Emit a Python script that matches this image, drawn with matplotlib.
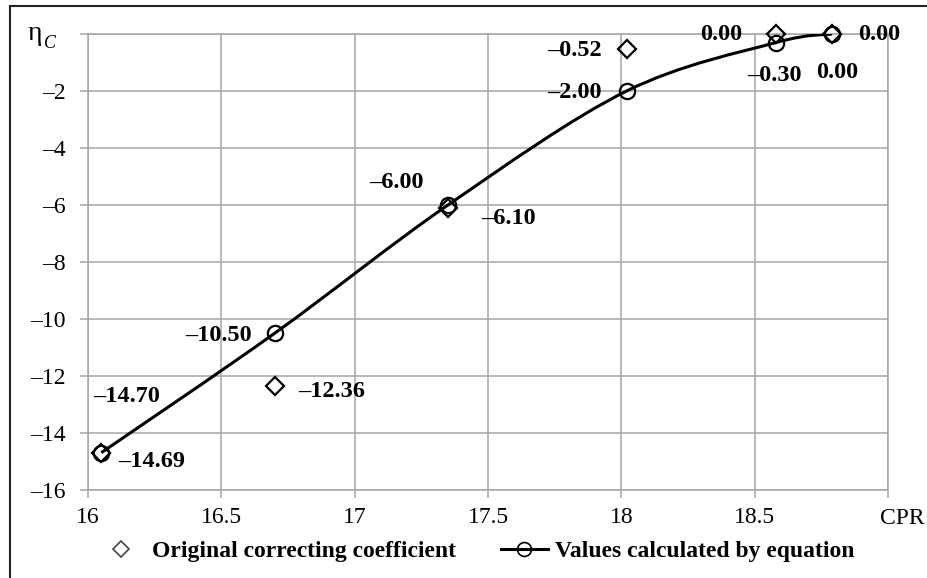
import matplotlib
matplotlib.use("Agg")
import matplotlib.pyplot as plt
from matplotlib.path import Path
from matplotlib.patches import PathPatch
from matplotlib.lines import Line2D
import numpy as np

# ---- data ----
cpr = [16.05, 16.70, 17.35, 18.02, 18.58, 18.79]
original_coef = [-14.70, -12.36, -6.10, -0.52, 0.00, 0.00]
equation_vals = [-14.69, -10.50, -6.00, -2.00, -0.30, 0.00]
x_ticks = [16, 16.5, 17, 17.5, 18, 18.5, 19]
x_tick_labels = ["16", "16.5", "17", "17.5", "18", "18.5", ""]
y_ticks = [-16, -14, -12, -10, -8, -6, -4, -2, 0]
y_tick_labels = ["\u201316", "\u201314", "\u201312", "\u201310", "\u20138", "\u20136", "\u20134", "\u20132", ""]
legend_labels = ["Original correcting coefficient", "Values calculated by equation"]

# label placement (pixels: dx, dy up, horizontal alignment)
orig_label_pos = [(-8, 56, "left"), (23, -5, "left"), (33, -11, "left"),
                  (-25, -2, "right"), (-34, 0, "right"), (26, 0, "left")]
eq_label_pos = [(17, -9, "left"), (-23, -2, "right"), (-24, 22, "right"),
                (-25, -2, "right"), (-2, -33, "center"), (5, -39, "center")]

W, H = 928, 578
fig = plt.figure(figsize=(W / 100, H / 100), dpi=100)
ax = fig.add_axes([88 / W, 1 - 490 / H, 800 / W, 456 / H])

SERIF = ["Liberation Serif", "DejaVu Serif"]
grid_c = "#a6a6a6"

ax.set_xlim(16, 19)
ax.set_ylim(-16, 0)
ax.set_xticks(x_ticks)
ax.set_xticklabels(x_tick_labels, fontfamily=SERIF, fontsize=17)
ax.set_yticks(y_ticks)
ax.set_yticklabels(y_tick_labels, fontfamily=SERIF, fontsize=17)
ax.tick_params(axis="both", length=6, width=1.1, color=grid_c, direction="out")
ax.tick_params(axis="x", pad=6)
ax.tick_params(axis="y", pad=10)
ax.grid(True, color=grid_c, linewidth=1.1)
ax.set_axisbelow(True)
for s in ax.spines.values():
    s.set_color(grid_c)
    s.set_linewidth(1.1)

# smoothed curve (Excel-like Bezier smoothing) through equation values
pts = np.column_stack([cpr, equation_vals])
n = len(pts)
verts = [tuple(pts[0])]
codes = [Path.MOVETO]
for i in range(n - 1):
    p0 = pts[i - 1] if i > 0 else pts[i]
    p1 = pts[i]
    p2 = pts[i + 1]
    p3 = pts[i + 2] if i + 2 < n else pts[i + 1]
    c1 = p1 + (p2 - p0) / 6.0
    c2 = p2 - (p3 - p1) / 6.0
    verts += [tuple(c1), tuple(c2), tuple(p2)]
    codes += [Path.CURVE4, Path.CURVE4, Path.CURVE4]
ax.add_patch(PathPatch(Path(verts, codes), facecolor="none", edgecolor="black",
                       linewidth=2.2, zorder=3))

ax.plot(cpr, equation_vals, linestyle="none", marker="o", markersize=11,
        markerfacecolor="none", markeredgecolor="black", markeredgewidth=1.6, zorder=4,
        clip_on=False)
ax.plot(cpr, original_coef, linestyle="none", marker="D", markersize=9.5,
        markerfacecolor="none", markeredgecolor="black", markeredgewidth=1.6, zorder=5,
        clip_on=False)

def fmt(v):
    s = f"{abs(v):.2f}"
    return ("\u2013" + s) if v < 0 else s

for x, y, (dx, dy, ha) in zip(cpr, original_coef, orig_label_pos):
    ax.annotate(fmt(y), (x, y), xytext=(dx * 0.72, dy * 0.72), textcoords="offset points",
                ha=ha, va="center", fontfamily=SERIF, fontsize=17.5, fontweight="bold",
                zorder=6, annotation_clip=False)
for x, y, (dx, dy, ha) in zip(cpr, equation_vals, eq_label_pos):
    ax.annotate(fmt(y), (x, y), xytext=(dx * 0.72, dy * 0.72), textcoords="offset points",
                ha=ha, va="center", fontfamily=SERIF, fontsize=17.5, fontweight="bold",
                zorder=6, annotation_clip=False)

# axis titles
ax.annotate("CPR", (19, 0), xycoords=("data", "axes fraction"), xytext=(14 * 0.72, -28 * 0.72),
            textcoords="offset points", ha="center", va="center", fontfamily=SERIF, fontsize=17,
            annotation_clip=False)
fig.text(28 / W, 1 - 33 / H, "\u03b7", fontfamily=SERIF, fontsize=20, ha="left", va="center")
fig.text(44 / W, 1 - 44 / H, "C", fontfamily=SERIF, fontsize=13, style="italic",
         ha="left", va="center")

# legend
h1 = Line2D([], [], linestyle="none", marker="D", markersize=8, markerfacecolor="none",
            markeredgecolor="#444444", markeredgewidth=1.2)
h2 = Line2D([], [], color="black", linewidth=2.2, marker="o", markersize=10,
            markerfacecolor="none", markeredgecolor="black", markeredgewidth=1.2)
fig.legend([h1, h2], legend_labels, loc="center", bbox_to_anchor=(476 / W, 1 - 551 / H),
           ncol=2, frameon=False, prop={"family": SERIF, "size": 17, "weight": "bold"},
           handlelength=2.0, handletextpad=0.3, columnspacing=1.9)

# outer frame (top and left edges visible)
fig.add_artist(Line2D([10 / W, 10 / W], [0, 1 - 6 / H], transform=fig.transFigure,
                      color="#222222", linewidth=1.5))
fig.add_artist(Line2D([10 / W, 1], [1 - 6 / H, 1 - 6 / H], transform=fig.transFigure,
                      color="#222222", linewidth=1.5))

fig.savefig("out.png", dpi=100)
